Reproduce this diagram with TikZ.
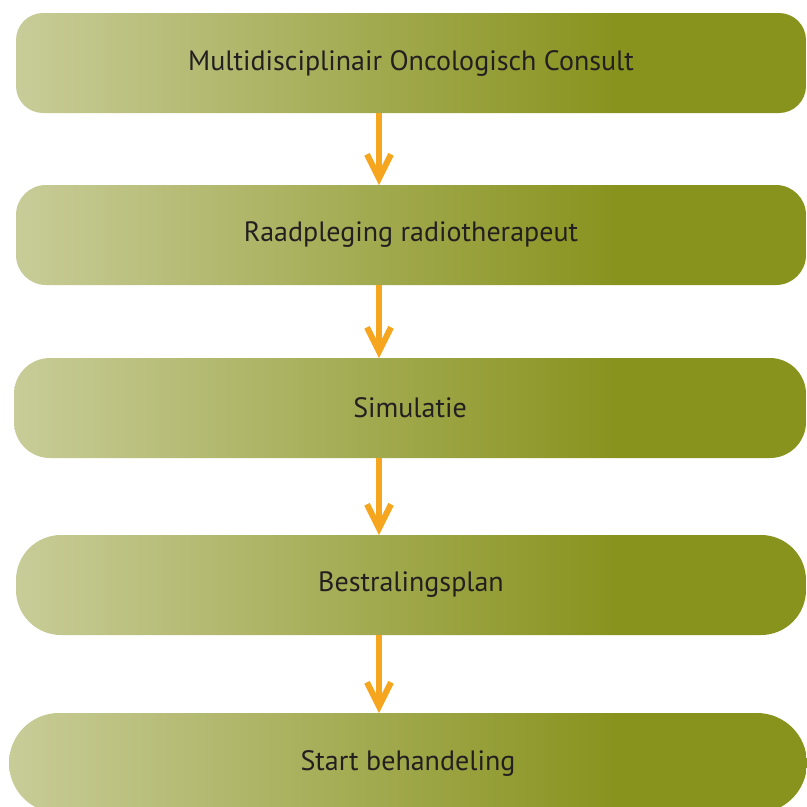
\documentclass[tikz,border=0pt]{standalone}
\usepackage{fontspec}
\setmainfont{PT Sans}
\usetikzlibrary{arrows.meta}

\definecolor{boxlight}{RGB}{200,204,152}
\definecolor{boxdark}{RGB}{136,147,30}
\definecolor{arroworange}{RGB}{246,166,30}
\definecolor{textdark}{RGB}{35,31,32}
\pgfdeclarehorizontalshading{boxshade}{100bp}{color(0bp)=(boxlight); color(25bp)=(boxlight); color(63bp)=(boxdark); color(100bp)=(boxdark)}

\tikzset{
  stepbox/.style={shade, shading=boxshade, inner sep=0pt, outer sep=0pt,
    minimum height=100pt, text=textdark, font=\fontsize{28}{31}\selectfont},
  flow/.style={arroworange, line width=6pt, -{Straight Barb[length=24pt,width=24pt]}}
}

\begin{document}
\begin{tikzpicture}[x=1pt,y=-1pt]
      \useasboundingbox (0,0) rectangle (807,807);
      \clip (0,0) rectangle (807,807);
      \node[stepbox,minimum width=790pt,rounded corners=27pt] (consult) at (411,63) {Multidisciplinair Oncologisch Consult};
      \node[stepbox,minimum width=790pt,rounded corners=30pt] (raad) at (411,235) {Raadpleging radiotherapeut};
      \node[stepbox,minimum width=792pt,rounded corners=36pt] (sim) at (410,408) {Simulatie};
      \node[stepbox,minimum width=790pt,rounded corners=45pt] (plan) at (411,585) {Bestralingsplan};
      \node[stepbox,minimum width=798pt,rounded corners=50pt] (start) at (408,763) {Start behandeling};
      \coordinate (ax) at (379,0);
      \draw[flow] (consult.south -| ax) -- (raad.north -| ax);
      \draw[flow] (raad.south -| ax) -- (sim.north -| ax);
      \draw[flow] (sim.south -| ax) -- (plan.north -| ax);
      \draw[flow] (plan.south -| ax) -- (start.north -| ax);
    \end{tikzpicture}
\end{document}
